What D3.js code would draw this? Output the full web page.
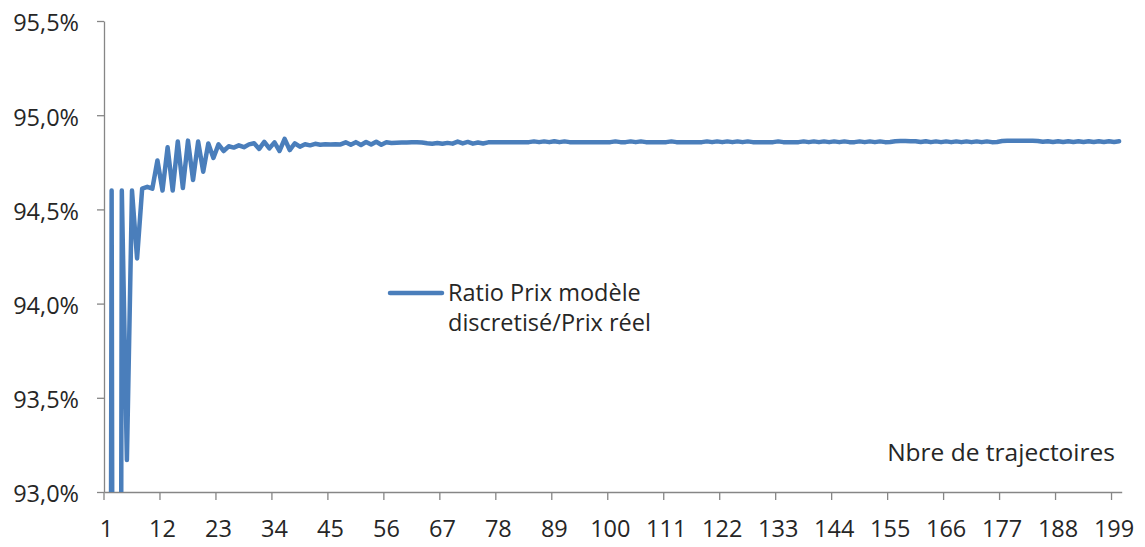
<!DOCTYPE html>
<html>
<head>
<meta charset="utf-8">
<script src="https://cdn.jsdelivr.net/npm/d3@7"></script>
<style>
  html, body { margin: 0; padding: 0; background: #fff; }
  svg { display: block; }
  text { font-family: "Open Sans", "Noto Sans", sans-serif; fill: #262626; }
</style>
</head>
<body>
<svg id="chart" width="1145" height="547"></svg>
<script>
// Number of simulated paths (categories 1..200)
const categories = d3.range(1, 201);

// Ratio discretised model price / real price, in %
const ratioValues = [
  80.0, 94.60, 80.0, 94.60, 93.17, 94.60, 94.24, 94.61, 94.62, 94.61,
  94.76, 94.60, 94.83, 94.60, 94.86, 94.614, 94.865, 94.656, 94.86, 94.70,
  94.85, 94.773, 94.845, 94.81, 94.835, 94.828, 94.84, 94.83, 94.845, 94.851,
  94.821, 94.859, 94.824, 94.856, 94.81, 94.874, 94.815, 94.851, 94.833, 94.846,
  94.84, 94.848, 94.843, 94.846, 94.845, 94.846, 94.845, 94.856, 94.843, 94.857,
  94.842, 94.858, 94.844, 94.859, 94.843, 94.856, 94.852, 94.854, 94.855, 94.855,
  94.856, 94.856, 94.855, 94.851, 94.849, 94.852, 94.848, 94.853, 94.849, 94.86,
  94.85, 94.858, 94.849, 94.855, 94.85, 94.856, 94.857, 94.857, 94.857, 94.857,
  94.857, 94.857, 94.857, 94.857, 94.861, 94.857, 94.861, 94.857, 94.862, 94.857,
  94.861, 94.857, 94.857, 94.857, 94.857, 94.857, 94.857, 94.857, 94.857, 94.857,
  94.861, 94.857, 94.857, 94.861, 94.857, 94.861, 94.857, 94.857, 94.857, 94.857,
  94.857, 94.861, 94.857, 94.857, 94.857, 94.857, 94.857, 94.857, 94.861, 94.857,
  94.861, 94.857, 94.861, 94.857, 94.861, 94.857, 94.861, 94.857, 94.857, 94.857,
  94.857, 94.857, 94.861, 94.857, 94.857, 94.857, 94.857, 94.861, 94.857, 94.861,
  94.857, 94.861, 94.857, 94.861, 94.857, 94.861, 94.857, 94.857, 94.861, 94.857,
  94.861, 94.857, 94.861, 94.857, 94.858, 94.862, 94.863, 94.863, 94.862, 94.862,
  94.858, 94.862, 94.857, 94.861, 94.857, 94.861, 94.857, 94.861, 94.857, 94.861,
  94.857, 94.861, 94.857, 94.861, 94.857, 94.858, 94.863, 94.864, 94.864, 94.864,
  94.864, 94.864, 94.864, 94.863, 94.859, 94.862, 94.858, 94.862, 94.858, 94.862,
  94.858, 94.862, 94.858, 94.862, 94.858, 94.862, 94.858, 94.862, 94.858, 94.862
];

// Axis ticks
const yTicks = [93.0, 93.5, 94.0, 94.5, 95.0, 95.5];
const xTickLabels = [1, 12, 23, 34, 45, 56, 67, 78, 89, 100, 111, 122, 133, 144, 155, 166, 177, 188, 199];

const seriesName = ["Ratio Prix modèle", "discretisé/Prix réel"];
const xTitle = "Nbre de trajectoires";

const plot = { left: 104, right: 1121.7, top: 21, bottom: 492 };
const axisColor = "#868686";
const lineColor = "#4A7EBB";
const fontSize = 23.5;

const svg = d3.select("#chart");

const x = d3.scaleBand().domain(categories).range([plot.left, plot.right]).paddingInner(0).paddingOuter(0);
const y = d3.scaleLinear().domain([93.0, 95.5]).range([plot.bottom, plot.top]);
const xc = c => x(c) + x.bandwidth() / 2;

const fmtPct = d => d3.format(".1f")(d).replace(".", ",") + "%";

// Clip region for the series
svg.append("defs").append("clipPath").attr("id", "plotClip")
  .append("rect")
  .attr("x", plot.left).attr("y", plot.top)
  .attr("width", plot.right - plot.left).attr("height", plot.bottom - plot.top);

// Y axis
const yAxis = svg.append("g")
  .attr("transform", `translate(${plot.left},0)`)
  .call(d3.axisLeft(y).tickValues(yTicks).tickFormat(fmtPct).tickSize(7).tickSizeOuter(0).tickPadding(18));
yAxis.selectAll("path, line").attr("stroke", axisColor).attr("stroke-width", 1.3);
yAxis.selectAll("text").attr("font-size", fontSize).attr("font-family", "Open Sans").attr("fill", "#262626").attr("dy", "0.42em");

// X axis labels at category centres
const xAxis = svg.append("g")
  .attr("transform", `translate(0,${plot.bottom})`)
  .call(d3.axisBottom(x).tickValues(xTickLabels).tickSize(0).tickSizeOuter(0).tickPadding(28));
xAxis.select("path.domain").attr("stroke", axisColor).attr("stroke-width", 1.3);
xAxis.selectAll("text").attr("font-size", fontSize).attr("font-family", "Open Sans").attr("fill", "#262626");

// X tick marks at the left boundary of each labelled category
svg.append("g").selectAll("line")
  .data(xTickLabels)
  .join("line")
  .attr("x1", d => x(d)).attr("x2", d => x(d))
  .attr("y1", plot.bottom).attr("y2", plot.bottom + 8)
  .attr("stroke", axisColor).attr("stroke-width", 1.3);

// Series line
const lineGen = d3.line()
  .x((d, i) => xc(categories[i]))
  .y(d => y(d));

svg.append("path")
  .datum(ratioValues)
  .attr("clip-path", "url(#plotClip)")
  .attr("d", lineGen)
  .attr("fill", "none")
  .attr("stroke", lineColor)
  .attr("stroke-width", 4.5)
  .attr("stroke-linejoin", "round")
  .attr("stroke-linecap", "round");

// Legend
const legend = svg.append("g");
legend.append("line")
  .attr("x1", 390).attr("x2", 442).attr("y1", 293).attr("y2", 293)
  .attr("stroke", lineColor).attr("stroke-width", 4.5).attr("stroke-linecap", "round");
legend.selectAll("text")
  .data(seriesName)
  .join("text")
  .attr("x", 448)
  .attr("y", (d, i) => 301 + i * 30)
  .attr("font-size", fontSize)
  .text(d => d);

// Axis title
svg.append("text")
  .attr("x", 1115).attr("y", 461)
  .attr("text-anchor", "end")
  .attr("font-size", 24.5)
  .text(xTitle);
</script>
</body>
</html>
